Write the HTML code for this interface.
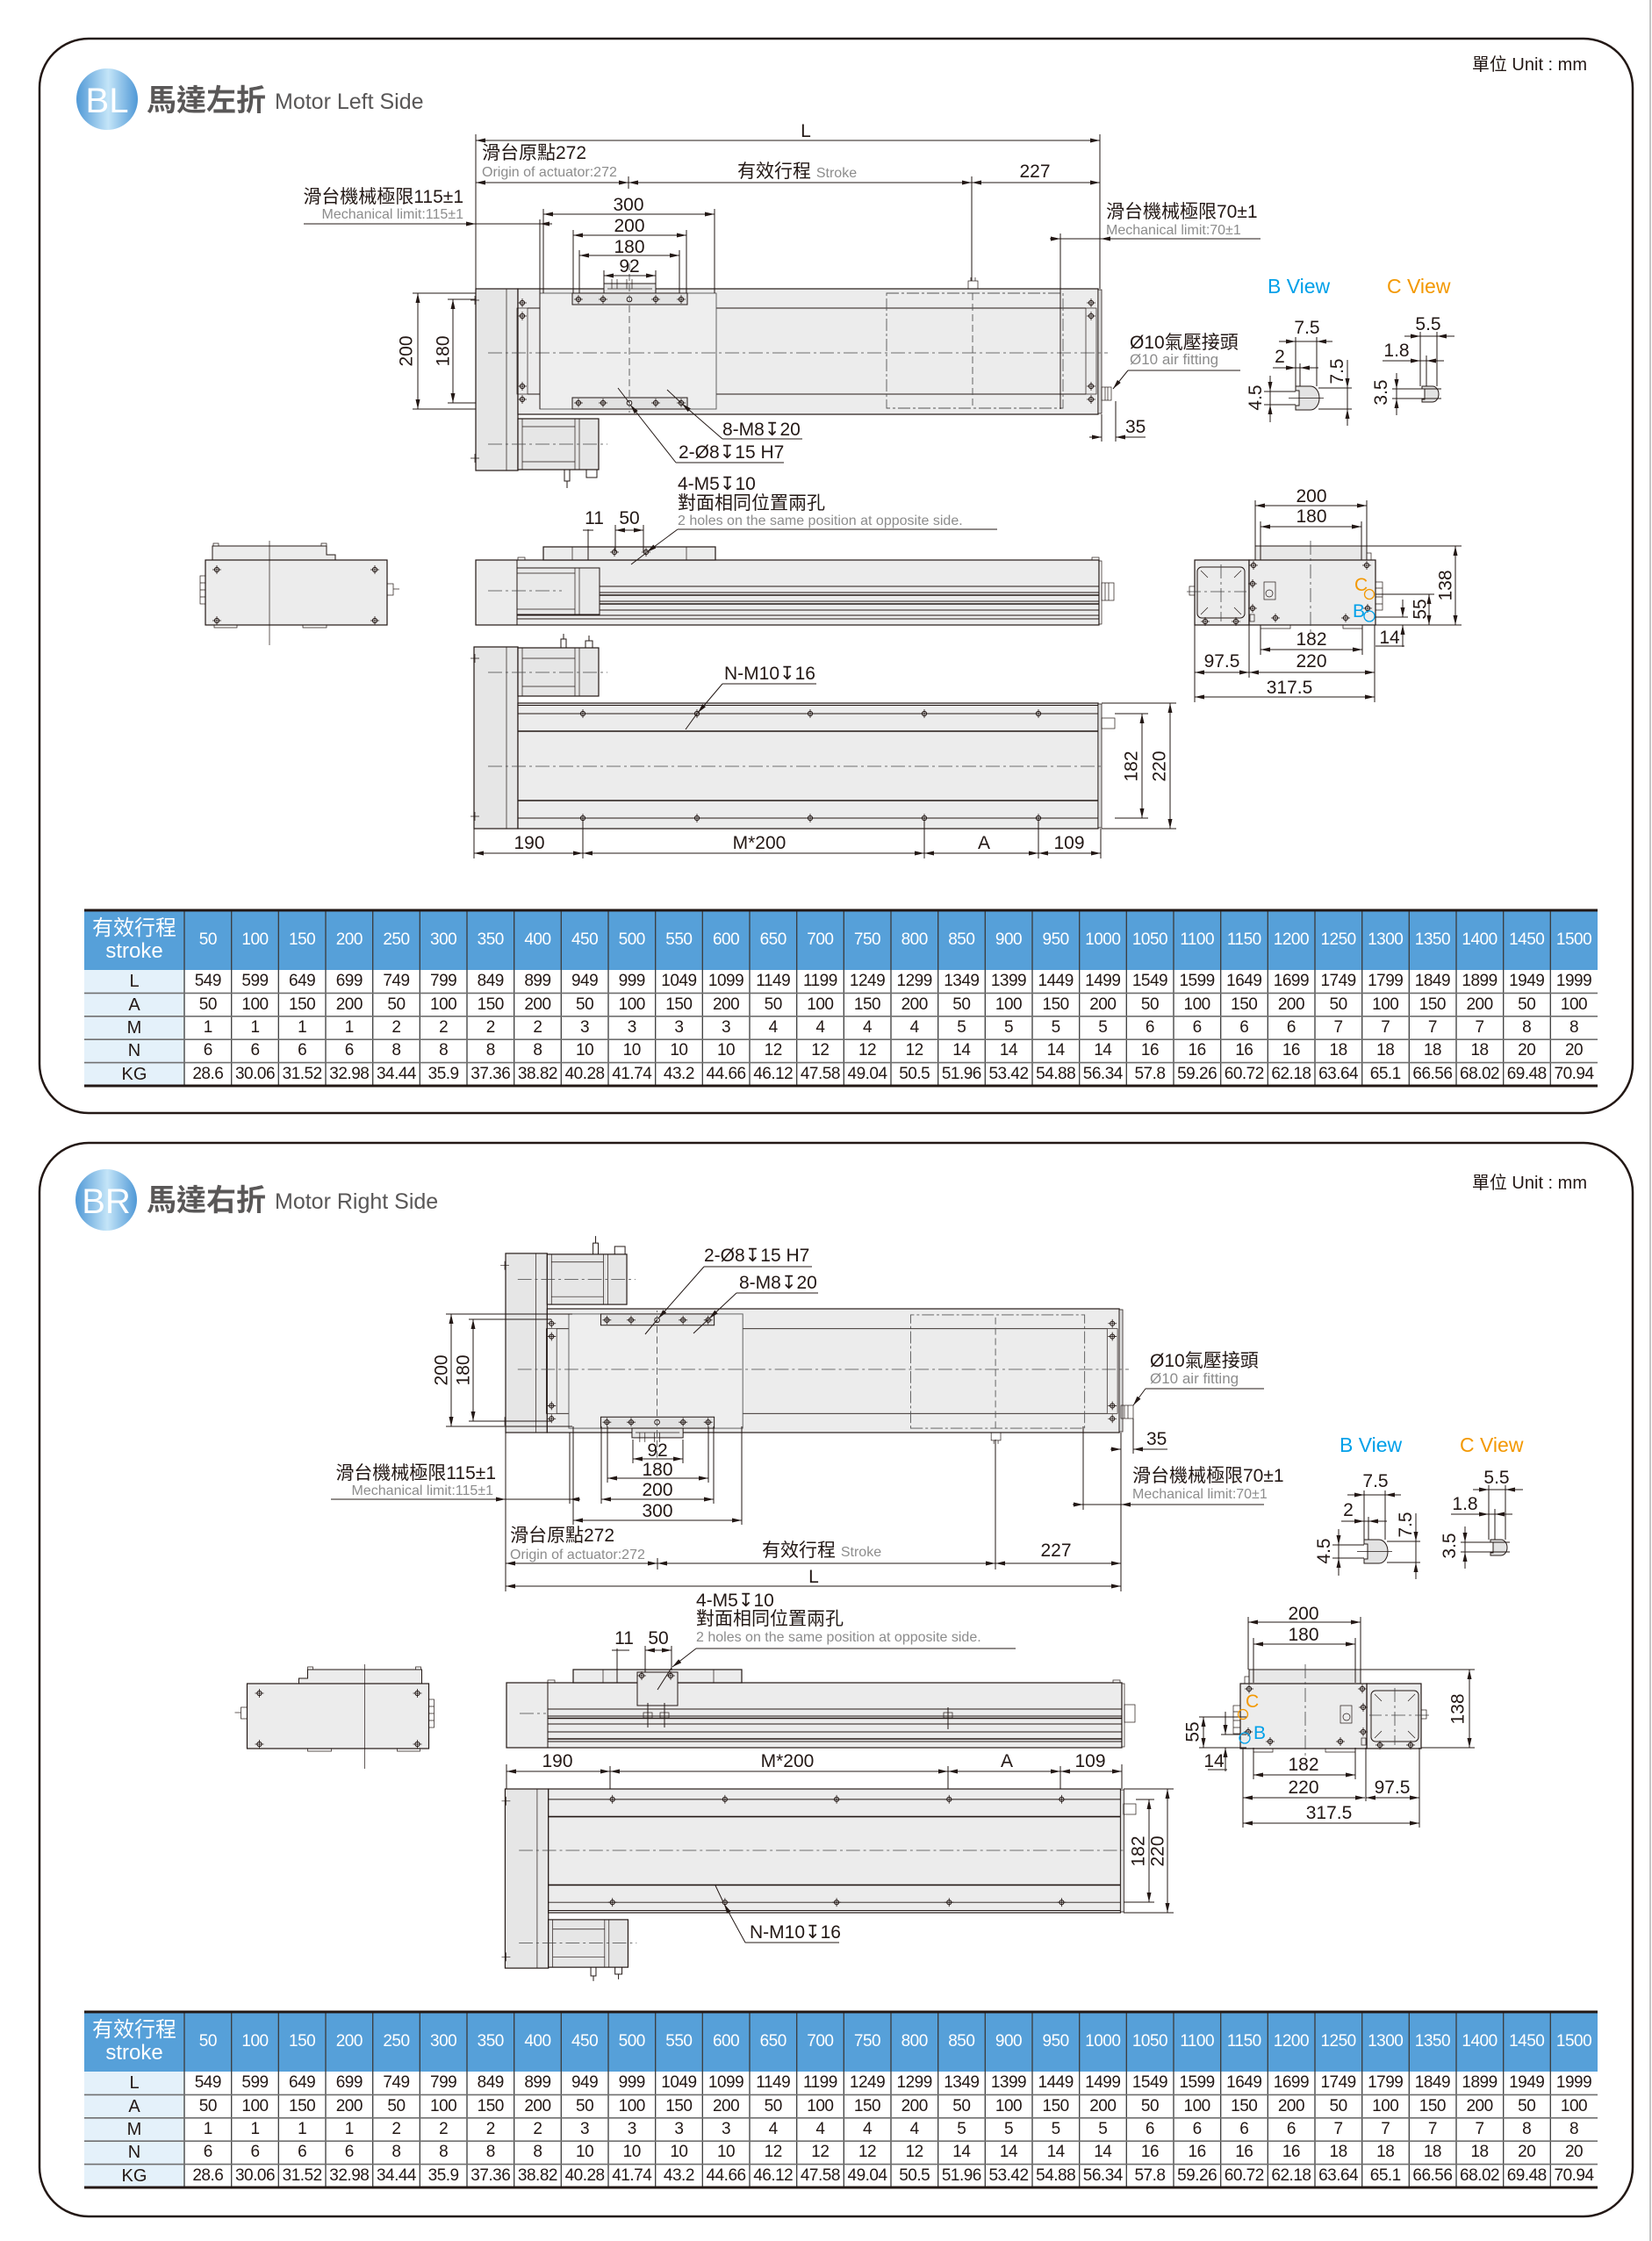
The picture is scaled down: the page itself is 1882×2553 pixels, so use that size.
<!DOCTYPE html>
<html><head><meta charset="utf-8">
<style>
html,body{margin:0;padding:0;background:#fff}
#pg{position:relative;width:1882px;height:2553px;overflow:hidden;background:#fff}
#pg svg{position:absolute;left:0;top:0}
.s{fill:none;stroke:#231815;stroke-width:1}
.t{fill:none;stroke:#231815;stroke-width:0.7}
.f{fill:#ececec;stroke:#231815;stroke-width:1.2}
.f2{fill:#e6e6e6;stroke:#231815;stroke-width:1.2}
.dl{fill:none;stroke:#231815;stroke-width:1;marker-start:url(#a);marker-end:url(#a)}
.ae{fill:none;stroke:#231815;stroke-width:1;marker-end:url(#a)}
.cl{fill:none;stroke:#444;stroke-width:0.8;stroke-dasharray:16 4 3 4}
.dsh{fill:none;stroke:#555;stroke-width:0.9;stroke-dasharray:8 4}
text{font-family:"Liberation Sans","Noto Sans CJK TC",sans-serif;fill:#231815}
.n{font-size:21px}
.m{text-anchor:middle}
.e{text-anchor:end}
.g{font-size:16px;fill:#8c8c8c}
.tb{position:absolute;left:96px;width:1724px;border-collapse:collapse;border-spacing:0;table-layout:fixed;font-family:"Liberation Sans","Noto Sans CJK TC",sans-serif;color:#231815}
.tb td{padding:0;text-align:center;height:26.4px;font-size:19px;line-height:20px;letter-spacing:-0.5px;white-space:nowrap;overflow:hidden}
.tb tr.h td{height:68px;color:#fff;font-size:19px}
.tb td.l{font-size:20px;letter-spacing:0}
.tb .a{font-size:24px;line-height:26px;letter-spacing:0}
</style></head>
<body><div id="pg">
<svg width="1882" height="2553" viewBox="0 0 1882 2553" xmlns="http://www.w3.org/2000/svg">
<defs>
<marker id="a" markerUnits="userSpaceOnUse" markerWidth="11" markerHeight="5" viewBox="0 0 11 5" refX="11" refY="2.5" orient="auto-start-reverse"><path d="M0 0L11 2.5L0 5z" fill="#231815"/></marker>
<linearGradient id="cg" x1="0" x2="1" y1="0" y2="0"><stop offset="0" stop-color="#4f98d6"/><stop offset="0.52" stop-color="#c4e5f8"/><stop offset="1" stop-color="#4f98d6"/></linearGradient>
<g id="h"><circle r="2.6" fill="none" stroke="#231815" stroke-width="1"/><path d="M-5 0H5M0 -5V5" stroke="#231815" stroke-width="0.8"/></g>
<g id="o"><circle r="2.8" fill="#fff" stroke="#231815" stroke-width="1"/></g>

<g id="TV">
<rect x="542" y="329" width="48" height="207" class="f2"/>
<path class="t" d="M577 329V536M536 342H546M541 337V347M536 522H546M541 517V527"/>
<rect x="590" y="477" width="92" height="58" class="f2"/>
<path class="t" d="M595 477V535M655 477V535M660 477V535M595 486H655M595 526H655"/>
<path class="cl" d="M556 506H692"/>
<path class="s" d="M643 535V548H649V535M646 548V556M668 535V544H680V535"/>
<rect x="590" y="329" width="661" height="143" class="f"/>
<rect x="1251" y="330" width="4" height="141" fill="#dcdcdc" stroke="#231815" stroke-width="0.8"/>
<path class="s" d="M601 351H1237M601 449H1237"/>
<rect x="589" y="351" width="12" height="98" class="t"/>
<rect x="1237" y="351" width="12" height="98" class="t"/>
<use href="#h" x="595" y="345"/><use href="#h" x="595" y="360"/><use href="#h" x="595" y="440"/><use href="#h" x="595" y="455"/>
<use href="#h" x="1243" y="345"/><use href="#h" x="1243" y="360"/><use href="#h" x="1243" y="440"/><use href="#h" x="1243" y="455"/>
<rect x="1010" y="334" width="201" height="131" fill="none" stroke="#555" stroke-width="0.9" stroke-dasharray="14 3 3 3"/>
<path class="dsh" d="M1108 334V465"/>
<rect x="615" y="334" width="201" height="132" fill="#eeeeee" stroke="#555" stroke-width="0.9"/>
<rect x="652" y="334" width="131" height="13" fill="#e2e2e2" stroke="#231815" stroke-width="1"/>
<rect x="652" y="453" width="131" height="13" fill="#e2e2e2" stroke="#231815" stroke-width="1"/>
<use href="#h" x="659" y="341"/><use href="#h" x="687" y="341"/><use href="#h" x="747" y="341"/><use href="#h" x="776" y="341"/>
<use href="#h" x="659" y="459"/><use href="#h" x="687" y="459"/><use href="#h" x="747" y="459"/><use href="#h" x="776" y="459"/>
<use href="#o" x="717" y="341"/><use href="#o" x="717" y="459"/>
<rect x="688" y="323" width="59" height="11" fill="#e6e6e6" stroke="#231815" stroke-width="1"/>
<path class="t" d="M697 318V329M703 318V329M714 318V329M720 318V329M692 329H743"/>
<path class="dsh" d="M717 300V470"/>
<path class="cl" d="M556 402H1262"/>
<rect x="1103" y="320" width="11" height="9" class="t"/>
<path class="t" d="M1106 316V320M1111 316V320"/>
</g>

<g id="LE">
<path d="M242 638V622H372V632H382V638" fill="#ececec" stroke="#231815" stroke-width="1"/>
<rect x="234" y="638" width="207" height="74" class="f"/>
<use href="#h" x="247" y="649"/><use href="#h" x="427" y="649"/><use href="#h" x="247" y="707"/><use href="#h" x="427" y="707"/>
<path class="t" d="M307 616V735"/>
<rect x="228" y="656" width="6" height="32" class="t"/>
<path class="t" d="M228 664H234M228 672H234M228 680H234"/>
<rect x="441" y="665" width="7" height="13" class="t"/><path class="t" d="M448 671H455"/>
<path class="t" d="M244 712V715H270V712M345 712V715H372V712M243 622V619H249V622M366 622V619H372V622"/>
</g>

<g id="RE">
<rect x="1430" y="622" width="127" height="16" fill="#e8e8e8" stroke="#231815" stroke-width="1"/>
<rect x="1557" y="630" width="5" height="8" class="t"/>
<rect x="1361" y="638" width="62" height="74" class="f"/>
<rect x="1423" y="638" width="144" height="74" class="f"/>
<rect x="1364" y="646" width="54" height="58" rx="5" class="s"/>
<path class="t" d="M1368 650l8 8M1414 650l-8 8M1368 700l8-8M1414 700l-8-8"/>
<path class="cl" d="M1352 674H1420M1391 643V708"/>
<rect x="1355" y="668" width="6" height="10" class="t"/>
<use href="#h" x="1373" y="708"/><use href="#h" x="1408" y="708"/>
<use href="#h" x="1428" y="644"/><use href="#h" x="1557" y="644"/><use href="#h" x="1427" y="665"/><use href="#h" x="1427" y="693"/><use href="#h" x="1453" y="704"/><use href="#h" x="1533" y="704"/><use href="#h" x="1558" y="693"/>
<rect x="1440" y="663" width="13" height="20" class="t"/><circle cx="1446" cy="676" r="4" class="t"/>
<rect x="1424" y="700" width="5" height="8" class="t"/>
<path class="cl" d="M1493 616V722"/>
<rect x="1567" y="663" width="8" height="32" class="t"/>
<path class="t" d="M1567 670H1575M1567 680H1575M1567 688H1575M1436 712V716H1470V712M1530 712V716H1552V712"/>
</g>

<g id="BV">
<rect x="540" y="737" width="50" height="207" class="f2"/>
<path class="t" d="M577 737V944M536 750H546M541 745V755M536 930H546M541 925V935"/>
<rect x="590" y="738" width="92" height="55" class="f2"/>
<path class="t" d="M595 738V793M655 738V793M660 738V793M595 750H655M595 782H655"/>
<path class="cl" d="M556 766H692"/>
<path class="s" d="M639 738V728H645V738M642 728V722M667 738V730H675V738M671 730V724"/>
<rect x="590" y="801" width="661" height="143" class="f"/>
<rect x="1251" y="802" width="4" height="141" fill="#dcdcdc" stroke="#231815" stroke-width="0.8"/>
<path class="s" d="M590 803.5H1251M590 813H1251M590 932H1251"/>
<path fill="none" stroke="#231815" stroke-width="1.6" d="M590 833H1251M590 912H1251"/>
<use href="#h" x="664" y="813"/><use href="#h" x="794" y="813"/><use href="#h" x="923" y="813"/><use href="#h" x="1053" y="813"/><use href="#h" x="1183" y="813"/>
<use href="#h" x="664" y="932"/><use href="#h" x="794" y="932"/><use href="#h" x="923" y="932"/><use href="#h" x="1053" y="932"/><use href="#h" x="1183" y="932"/>
<path class="cl" d="M556 873H1258"/>
</g>

<g id="TB">
<rect x="96" y="1037" width="1724" height="68" fill="#56a0d9"/>
<rect x="96" y="1105" width="114" height="132" fill="#e4f1fa"/>
<path fill="none" stroke="#3a3a3a" stroke-width="1.3" d="M210 1037V1237M263.7 1037V1237M317.3 1037V1237M371 1037V1237M424.7 1037V1237M478.3 1037V1237M532 1037V1237M585.7 1037V1237M639.3 1037V1237M693 1037V1237M746.7 1037V1237M800.3 1037V1237M854 1037V1237M907.7 1037V1237M961.3 1037V1237M1015 1037V1237M1068.7 1037V1237M1122.3 1037V1237M1176 1037V1237M1229.7 1037V1237M1283.3 1037V1237M1337 1037V1237M1390.7 1037V1237M1444.3 1037V1237M1498 1037V1237M1551.7 1037V1237M1605.3 1037V1237M1659 1037V1237M1712.7 1037V1237M1766.3 1037V1237"/>
<path fill="none" stroke="#707070" stroke-width="1.6" d="M96 1131.4H1820M96 1157.8H1820M96 1184.2H1820M96 1210.6H1820"/>
<path fill="none" stroke="#231815" stroke-width="3" d="M96 1037H1820M96 1237H1820"/>
</g>
</defs>

<!-- page edge -->
<path d="M1880 0V2553" stroke="#c4c4c4" stroke-width="2"/>

<!-- ===================== BL ===================== -->
<rect x="45" y="44" width="1815" height="1224" rx="56" fill="none" stroke="#231815" stroke-width="2.5"/>
<circle cx="122" cy="113" r="35" fill="url(#cg)"/>
<text x="122" y="128" text-anchor="middle" style="font-size:40px;fill:#fff">BL</text>
<text x="167" y="126" style="font-size:34px;font-weight:bold;fill:#595757">馬達左折</text>
<text x="313" y="124" style="font-size:25px;fill:#595757">Motor Left Side</text>
<text x="1808" y="80" text-anchor="end" style="font-size:20px">單位 Unit : mm</text>

<use href="#TV"/>
<!-- top view dims -->
<path class="s" d="M542 153V329M1253 153V329M716 201V215M1107 201V320M619 238V334M814 238V334M653 262V334M782 262V334M660 285V334M774 285V334M688 308V323M747 308V323M615 250V466M1208 266V466"/>
<path class="dl" d="M542 160H1253"/>
<path class="dl" d="M542 208H716"/><path class="dl" d="M716 208H1107"/><path class="dl" d="M1107 208H1253"/>
<path class="dl" d="M619 244H814"/><path class="dl" d="M653 268H782"/><path class="dl" d="M660 291H774"/><path class="dl" d="M688 314H747"/>
<path class="s" d="M346 255H629"/><path class="ae" d="M530 255H542"/><path class="ae" d="M627 255H615"/>
<path class="s" d="M1196 272H1436"/><path class="ae" d="M1196 272H1208"/><path class="ae" d="M1266 272H1254"/>
<text class="n m" x="918" y="156">L</text>
<text class="n" x="549" y="181">滑台原點272</text>
<text class="g" x="549" y="201">Origin of actuator:272</text>
<text class="n" x="840" y="202">有效行程 <tspan style="font-size:16px;fill:#8c8c8c">Stroke</tspan></text>
<text class="n m" x="1179" y="202">227</text>
<text class="n m" x="716" y="240">300</text>
<text class="n m" x="717" y="264">200</text>
<text class="n m" x="717" y="288">180</text>
<text class="n m" x="717" y="310">92</text>
<text class="n e" x="528" y="231">滑台機械極限115±1</text>
<text class="g e" x="528" y="249">Mechanical limit:115±1</text>
<text class="n" x="1260" y="248">滑台機械極限70±1</text>
<text class="g" x="1260" y="267">Mechanical limit:70±1</text>
<path class="s" d="M470 334H542M470 466H542M510 341H542M510 459H542"/>
<path class="dl" d="M476 334V466"/><path class="dl" d="M516 341V459"/>
<text class="n m" transform="translate(469.5 400) rotate(-90)">200</text>
<text class="n m" transform="translate(511.5 400) rotate(-90)">180</text>
<text class="n" x="823" y="496">8-M8↧20</text>
<path class="s" d="M823 500H914M776 459L760 444"/><path class="ae" d="M823 500L777 460"/>
<text class="n" x="773" y="522">2-Ø8↧15 H7</text>
<path class="s" d="M770 527H893M717 459L704 442"/><path class="ae" d="M770 527L718 461"/>
<rect x="1255" y="441" width="11" height="15" class="t"/><path class="t" d="M1259 441V456M1262 441V456"/>
<text class="n" x="1287" y="397">Ø10氣壓接頭</text>
<text x="1287" y="415" style="font-size:17px;fill:#8c8c8c">Ø10 air fitting</text>
<path class="s" d="M1285 422H1413"/><path class="ae" d="M1285 422L1268 443"/>
<text class="n" x="1282" y="493">35</text>
<path class="s" d="M1255 472V503M1271 457V503M1271 498H1305"/><path class="ae" d="M1241 498H1255"/><path class="ae" d="M1285 498H1271"/>

<!-- B / C view BL -->
<text x="1444" y="334" style="font-size:23px;fill:#00a0e9">B View</text>
<text x="1580" y="334" style="font-size:23px;fill:#f39800">C View</text>
<g>
<path d="M1476 440H1493A10 13.5 0 0 1 1493 467H1476V462H1480V445H1476Z" fill="#e3e3e3" stroke="#231815" stroke-width="1"/>
<path class="t" d="M1468 453.5H1508"/>
<path class="s" d="M1476 384V440M1500 384V440M1481 414V440M1457 389H1518M1450 419H1502"/>
<path class="ae" d="M1462 389H1476"/><path class="ae" d="M1514 389H1500"/><path class="ae" d="M1464 419H1476"/><path class="ae" d="M1495 419H1481"/>
<text class="n m" x="1489" y="380">7.5</text><text class="n m" x="1458" y="413">2</text>
<path class="s" d="M1440 446H1476M1440 461H1476M1447 428V481"/>
<path class="ae" d="M1447 432V446"/><path class="ae" d="M1447 477V461"/>
<text class="n m" transform="translate(1437 453) rotate(-90)">4.5</text>
<path class="s" d="M1502 442H1540M1502 466H1540M1535 410V485"/>
<path class="ae" d="M1535 428V442"/><path class="ae" d="M1535 480V466"/>
<text class="n m" transform="translate(1530 423) rotate(-90)">7.5</text>
<path d="M1620 440H1632A7 9 0 0 1 1632 458H1620V455H1623V443H1620Z" fill="#e3e3e3" stroke="#231815" stroke-width="1"/>
<path class="s" d="M1618 378V440M1637 378V440M1625 405V440M1600 383H1657M1575 411H1645"/>
<path class="ae" d="M1604 383H1618"/><path class="ae" d="M1651 383H1637"/><path class="ae" d="M1604 411H1618"/><path class="ae" d="M1639 411H1625"/>
<text class="n m" x="1627" y="376">5.5</text><text class="n m" x="1591" y="406">1.8</text>
<path class="s" d="M1586 443H1642M1586 454H1642M1591 425V473"/>
<path class="ae" d="M1591 429V443"/><path class="ae" d="M1591 469V454"/>
<text class="n m" transform="translate(1580 447) rotate(-90)">3.5</text>
</g>

<!-- middle row BL -->
<use href="#LE"/>
<rect x="542" y="638" width="710" height="74" class="f"/>
<path class="s" d="M589 638V712"/>
<rect x="619" y="623" width="196" height="15" class="f"/>
<path class="t" d="M652 623V638M782 623V638"/>
<rect x="590" y="635" width="8" height="3" class="t"/><rect x="1244" y="635" width="8" height="3" class="t"/>
<rect x="589" y="647" width="94" height="53" fill="#e9e9e9" stroke="#231815" stroke-width="1"/>
<path class="t" d="M655 647V700M660 647V700M589 653H655M589 694H655"/>
<path class="cl" d="M556 673H640"/>
<path class="s" d="M683 668H1252M683 675H1252M683 685H1252M683 695H1252M589 701H1252M589 705H1252"/>
<path fill="none" stroke="#231815" stroke-width="1.6" d="M683 678H1252M683 688H1252"/>
<rect x="1252" y="639" width="3" height="72" class="t"/>
<rect x="1255" y="664" width="14" height="20" class="t"/><path class="t" d="M1259 664V684M1263 664V684"/>
<use href="#h" x="700" y="629"/><use href="#h" x="736" y="629"/>
<text class="n" x="772" y="558">4-M5↧10</text>
<text class="n" x="772" y="580">對面相同位置兩孔</text>
<text class="g" x="772" y="598">2 holes on the same position at opposite side.</text>
<path class="s" d="M772 603H1136M736 630L719 643"/><path class="ae" d="M772 603L737 629"/>
<text class="n m" x="677" y="597">11</text><text class="n m" x="717" y="597">50</text>
<path class="s" d="M670 603V638M664 604H676M701 598V628M733 598V628"/>
<path class="dl" d="M701 604H733"/>

<use href="#RE"/>
<path class="s" d="M1430 570V622M1557 570V622M1436 594V638M1551 594V638"/>
<path class="dl" d="M1430 576H1557"/><path class="dl" d="M1436 600H1551"/>
<text class="n m" x="1494" y="572">200</text><text class="n m" x="1494" y="595">180</text>
<path class="s" d="M1557 622H1665M1567 712H1665M1567 677H1634M1567 703H1604M1567 736H1600"/>
<path class="dl" d="M1658 622V712"/><path class="dl" d="M1628 677V712"/>
<path class="ae" d="M1598 683V703"/><path class="ae" d="M1598 737V712"/>
<text class="n m" transform="translate(1653.5 667) rotate(-90)">138</text>
<text class="n m" transform="translate(1624.5 694) rotate(-90)">55</text>
<text class="n m" x="1583" y="733">14</text>
<path class="s" d="M1436 712V746M1552 712V746M1361 712V800M1423 712V772M1566 712V800"/>
<path class="dl" d="M1436 740H1552"/><path class="dl" d="M1423 766H1566"/><path class="dl" d="M1361 766H1423"/><path class="dl" d="M1361 794H1566"/>
<text class="n m" x="1494" y="735">182</text><text class="n m" x="1494" y="760">220</text><text class="n m" x="1392" y="760">97.5</text><text class="n m" x="1469" y="790">317.5</text>
<text x="1543" y="673" style="font-size:21px;fill:#f39800">C</text><circle cx="1560" cy="677" r="5.5" fill="none" stroke="#f39800" stroke-width="1.3"/>
<text x="1541" y="703" style="font-size:21px;fill:#00a0e9">B</text><circle cx="1560" cy="702" r="6" fill="none" stroke="#00a0e9" stroke-width="1.3"/>

<!-- bottom view BL -->
<use href="#BV"/>
<rect x="1255" y="818" width="15" height="12" class="t"/>
<path class="s" d="M1255 801H1340M1255 944H1340M1270 813H1308M1270 932H1308"/>
<path class="dl" d="M1301 813V932"/><path class="dl" d="M1333 801V944"/>
<text class="n m" transform="translate(1295.5 873) rotate(-90)">182</text>
<text class="n m" transform="translate(1327.5 873) rotate(-90)">220</text>
<path class="s" d="M540 944V978M664 932V978M1053 932V978M1183 932V978M1254 944V978"/>
<path class="dl" d="M540 972H664"/><path class="dl" d="M664 972H1053"/><path class="dl" d="M1053 972H1183"/><path class="dl" d="M1183 972H1254"/>
<text class="n m" x="603" y="967">190</text><text class="n m" x="865" y="967">M*200</text><text class="n m" x="1121" y="967">A</text><text class="n m" x="1218" y="967">109</text>
<text class="n" x="825" y="774">N-M10↧16</text>
<path class="s" d="M823 779H930M794 813L781 831"/><path class="ae" d="M823 779L795 812"/>

<use href="#TB"/>

<!-- ===================== BR ===================== -->
<rect x="45" y="1302" width="1815" height="1223" rx="56" fill="none" stroke="#231815" stroke-width="2.5"/>
<circle cx="121" cy="1367" r="35" fill="url(#cg)"/>
<text x="121" y="1382" text-anchor="middle" style="font-size:40px;fill:#fff">BR</text>
<text x="167" y="1379" style="font-size:34px;font-weight:bold;fill:#595757">馬達右折</text>
<text x="313" y="1377" style="font-size:25px;fill:#595757">Motor Right Side</text>
<text x="1808" y="1354" text-anchor="end" style="font-size:20px">單位 Unit : mm</text>

<use href="#TV" transform="matrix(0.986 0 0 -0.986 41.6 1956.4)"/>
<rect x="1277" y="1601" width="14" height="15" class="t"/><path class="t" d="M1281 1601V1616M1285 1601V1616"/>
<path class="s" d="M576 1632V1813M1277 1632V1813M749 1775V1788M1134 1640V1788M721 1640V1667M778 1640V1667M692 1625V1689M807 1625V1689M685 1625V1713M813 1625V1713M653 1625V1737M845 1625V1737M649 1632V1713M1234 1625V1720"/>
<path class="dl" d="M721 1662H778"/><path class="dl" d="M692 1684H807"/><path class="dl" d="M685 1708H813"/><path class="dl" d="M653 1732H845"/>
<text class="n m" x="749" y="1659">92</text><text class="n m" x="749" y="1681">180</text><text class="n m" x="749" y="1704">200</text><text class="n m" x="749" y="1728">300</text>
<path class="s" d="M377 1708H661"/><path class="ae" d="M564 1708H576"/><path class="ae" d="M661 1708H649"/>
<text class="n e" x="565" y="1685">滑台機械極限115±1</text>
<text class="g e" x="562" y="1703">Mechanical limit:115±1</text>
<path class="dl" d="M576 1781H749"/><path class="dl" d="M749 1781H1134"/><path class="dl" d="M1134 1781H1277"/>
<path class="dl" d="M576 1807H1277"/>
<text class="n" x="581" y="1756">滑台原點272</text>
<text class="g" x="581" y="1776">Origin of actuator:272</text>
<text class="n" x="868" y="1773">有效行程 <tspan style="font-size:16px;fill:#8c8c8c">Stroke</tspan></text>
<text class="n m" x="1203" y="1773">227</text>
<text class="n m" x="927" y="1803">L</text>
<path class="s" d="M1222 1714H1440"/><path class="ae" d="M1222 1714H1234"/><path class="ae" d="M1289 1714H1277"/>
<text class="n" x="1290" y="1688">滑台機械極限70±1</text>
<text class="g" x="1290" y="1707">Mechanical limit:70±1</text>
<text class="n" x="1310" y="1557">Ø10氣壓接頭</text>
<text x="1310" y="1576" style="font-size:17px;fill:#8c8c8c">Ø10 air fitting</text>
<path class="s" d="M1305 1582H1440"/><path class="ae" d="M1305 1582L1291 1601"/>
<text class="n" x="1306" y="1646">35</text>
<path class="s" d="M1291 1616V1656M1291 1651H1330"/><path class="ae" d="M1265 1651H1277"/><path class="ae" d="M1303 1651H1291"/>
<path class="s" d="M508 1497H652M508 1625H652M534 1503H628M534 1619H628"/>
<path class="dl" d="M514 1497V1625"/><path class="dl" d="M539 1503V1619"/>
<text class="n m" transform="translate(509.5 1561) rotate(-90)">200</text>
<text class="n m" transform="translate(534.5 1561) rotate(-90)">180</text>
<text class="n" x="802" y="1437">2-Ø8↧15 H7</text>
<path class="s" d="M802 1443H925M749 1503L735 1520"/><path class="ae" d="M802 1443L750 1502"/>
<text class="n" x="842" y="1468">8-M8↧20</text>
<path class="s" d="M839 1473H932M807 1503L790 1519"/><path class="ae" d="M839 1473L808 1502"/>

<!-- B / C view BR -->
<text x="1526" y="1654" style="font-size:23px;fill:#00a0e9">B View</text>
<text x="1663" y="1654" style="font-size:23px;fill:#f39800">C View</text>
<g transform="translate(78 1314)">
<path d="M1476 440H1493A10 13.5 0 0 1 1493 467H1476V462H1480V445H1476Z" fill="#e3e3e3" stroke="#231815" stroke-width="1"/>
<path class="t" d="M1468 453.5H1508"/>
<path class="s" d="M1476 384V440M1500 384V440M1481 414V440M1457 389H1518M1450 419H1502"/>
<path class="ae" d="M1462 389H1476"/><path class="ae" d="M1514 389H1500"/><path class="ae" d="M1464 419H1476"/><path class="ae" d="M1495 419H1481"/>
<text class="n m" x="1489" y="380">7.5</text><text class="n m" x="1458" y="413">2</text>
<path class="s" d="M1440 446H1476M1440 461H1476M1447 428V481"/>
<path class="ae" d="M1447 432V446"/><path class="ae" d="M1447 477V461"/>
<text class="n m" transform="translate(1437 453) rotate(-90)">4.5</text>
<path class="s" d="M1502 442H1540M1502 466H1540M1535 410V485"/>
<path class="ae" d="M1535 428V442"/><path class="ae" d="M1535 480V466"/>
<text class="n m" transform="translate(1530 423) rotate(-90)">7.5</text>
<path d="M1620 440H1632A7 9 0 0 1 1632 458H1620V455H1623V443H1620Z" fill="#e3e3e3" stroke="#231815" stroke-width="1"/>
<path class="s" d="M1618 378V440M1637 378V440M1625 405V440M1600 383H1657M1575 411H1645"/>
<path class="ae" d="M1604 383H1618"/><path class="ae" d="M1651 383H1637"/><path class="ae" d="M1604 411H1618"/><path class="ae" d="M1639 411H1625"/>
<text class="n m" x="1627" y="376">5.5</text><text class="n m" x="1591" y="406">1.8</text>
<path class="s" d="M1586 443H1642M1586 454H1642M1591 425V473"/>
<path class="ae" d="M1591 429V443"/><path class="ae" d="M1591 469V454"/>
<text class="n m" transform="translate(1580 447) rotate(-90)">3.5</text>
</g>

<!-- middle row BR -->
<use href="#LE" transform="matrix(-1 0 0 1 722.5 1280)"/>
<rect x="577" y="1917" width="701" height="74" class="f"/>
<path class="s" d="M624 1917V1991"/>
<rect x="653" y="1902" width="192" height="15" class="f"/>
<path class="t" d="M687 1902V1917M813 1902V1917"/>
<rect x="624" y="1914" width="8" height="3" class="t"/><rect x="1268" y="1914" width="8" height="3" class="t"/>
<path class="s" d="M624 1947H1278M624 1955H1278M624 1964H1278M624 1973H1278M624 1984H1278"/>
<path fill="none" stroke="#231815" stroke-width="1.6" d="M624 1957.5H1278M624 1981H1278"/>
<rect x="726" y="1905" width="46" height="38" fill="#e9e9e9" stroke="#231815" stroke-width="1"/>
<path class="s" d="M738 1940V1968M757 1940V1968M1080 1945V1970"/>
<rect x="733" y="1951" width="10" height="6" class="t"/><rect x="752" y="1951" width="10" height="6" class="t"/><rect x="1075" y="1951" width="10" height="6" class="t"/>
<path class="cl" d="M592 1952H622"/>
<rect x="1278" y="1918" width="3" height="72" class="t"/>
<rect x="1281" y="1942" width="12" height="20" class="t"/>
<use href="#h" x="731" y="1909"/><use href="#h" x="764" y="1909"/>
<text class="n" x="793" y="1830">4-M5↧10</text>
<text class="n" x="793" y="1851">對面相同位置兩孔</text>
<text class="g" x="793" y="1870">2 holes on the same position at opposite side.</text>
<path class="s" d="M793 1878H1157M765 1900L749 1925"/><path class="ae" d="M793 1878L766 1899"/>
<text class="n m" x="711" y="1873">11</text><text class="n m" x="750" y="1873">50</text>
<path class="s" d="M703 1878V1917M697 1880H717M735 1875V1905M765 1875V1903"/>
<path class="dl" d="M735 1880H765"/>

<use href="#RE" transform="matrix(-1 0 0 1 2980 1280)"/>
<path class="s" d="M1422 1842V1902M1550 1842V1902M1428 1866V1917M1544 1866V1917"/>
<path class="dl" d="M1422 1848H1550"/><path class="dl" d="M1428 1873H1544"/>
<text class="n m" x="1485" y="1845">200</text><text class="n m" x="1485" y="1869">180</text>
<path class="s" d="M1550 1902H1680M1619 1991H1680M1366 1956H1420M1366 1991H1420M1391 1976H1420M1376 2016H1398"/>
<path class="dl" d="M1674 1902V1991"/><path class="dl" d="M1371 1956V1991"/>
<path class="ae" d="M1396 1950V1976"/><path class="ae" d="M1396 2018V1991"/>
<text class="n m" transform="translate(1667.5 1947) rotate(-90)">138</text>
<text class="n m" transform="translate(1365.5 1973) rotate(-90)">55</text>
<text class="n m" x="1383" y="2013">14</text>
<path class="s" d="M1428 1991V2027M1544 1991V2027M1416 1991V2082M1556 1991V2052M1617 1991V2082"/>
<path class="dl" d="M1428 2022H1544"/><path class="dl" d="M1416 2048H1555"/><path class="dl" d="M1556 2048H1617"/><path class="dl" d="M1416 2077H1617"/>
<text class="n m" x="1485" y="2017">182</text><text class="n m" x="1485" y="2043">220</text><text class="n m" x="1586" y="2043">97.5</text><text class="n m" x="1514" y="2072">317.5</text>
<text x="1419" y="1945" style="font-size:21px;fill:#f39800">C</text><circle cx="1416" cy="1953" r="5.5" fill="none" stroke="#f39800" stroke-width="1.3"/>
<text x="1428" y="1981" style="font-size:21px;fill:#00a0e9">B</text><circle cx="1418" cy="1980" r="6" fill="none" stroke="#00a0e9" stroke-width="1.3"/>

<!-- dims row + bottom view BR -->
<path class="s" d="M577 2010V2038M695 2012V2050M1080 2012V2050M1208 2012V2050M1278 2010V2038"/>
<path class="dl" d="M577 2018H695"/><path class="dl" d="M695 2018H1080"/><path class="dl" d="M1080 2018H1208"/><path class="dl" d="M1208 2018H1278"/>
<text class="n m" x="635" y="2013">190</text><text class="n m" x="897" y="2013">M*200</text><text class="n m" x="1147" y="2013">A</text><text class="n m" x="1242" y="2013">109</text>
<use href="#BV" transform="matrix(0.986 0 0 -0.986 43 2968.8)"/>
<rect x="1280" y="2055" width="14" height="12" class="t"/>
<path class="s" d="M1280 2038H1337M1280 2179H1337M1294 2050H1315M1280 2167H1315"/>
<path class="dl" d="M1309 2050V2167"/><path class="dl" d="M1330 2038V2179"/>
<text class="n m" transform="translate(1303.5 2109) rotate(-90)">182</text>
<text class="n m" transform="translate(1325.5 2109) rotate(-90)">220</text>
<text class="n" x="854" y="2208">N-M10↧16</text>
<path class="s" d="M849 2213H956M824 2167L815 2148"/><path class="ae" d="M849 2213L825 2169"/>

<use href="#TB" y="1255"/>
</svg>

<table class="tb" style="top:1037px">
<colgroup><col style="width:114px"><col span="30" style="width:53.667px"></colgroup>
<tr class="h"><td class="l"><div class="a">有效行程</div><div class="a">stroke</div></td><td>50</td><td>100</td><td>150</td><td>200</td><td>250</td><td>300</td><td>350</td><td>400</td><td>450</td><td>500</td><td>550</td><td>600</td><td>650</td><td>700</td><td>750</td><td>800</td><td>850</td><td>900</td><td>950</td><td>1000</td><td>1050</td><td>1100</td><td>1150</td><td>1200</td><td>1250</td><td>1300</td><td>1350</td><td>1400</td><td>1450</td><td>1500</td></tr>
<tr><td class="l">L</td><td>549</td><td>599</td><td>649</td><td>699</td><td>749</td><td>799</td><td>849</td><td>899</td><td>949</td><td>999</td><td>1049</td><td>1099</td><td>1149</td><td>1199</td><td>1249</td><td>1299</td><td>1349</td><td>1399</td><td>1449</td><td>1499</td><td>1549</td><td>1599</td><td>1649</td><td>1699</td><td>1749</td><td>1799</td><td>1849</td><td>1899</td><td>1949</td><td>1999</td></tr>
<tr><td class="l">A</td><td>50</td><td>100</td><td>150</td><td>200</td><td>50</td><td>100</td><td>150</td><td>200</td><td>50</td><td>100</td><td>150</td><td>200</td><td>50</td><td>100</td><td>150</td><td>200</td><td>50</td><td>100</td><td>150</td><td>200</td><td>50</td><td>100</td><td>150</td><td>200</td><td>50</td><td>100</td><td>150</td><td>200</td><td>50</td><td>100</td></tr>
<tr><td class="l">M</td><td>1</td><td>1</td><td>1</td><td>1</td><td>2</td><td>2</td><td>2</td><td>2</td><td>3</td><td>3</td><td>3</td><td>3</td><td>4</td><td>4</td><td>4</td><td>4</td><td>5</td><td>5</td><td>5</td><td>5</td><td>6</td><td>6</td><td>6</td><td>6</td><td>7</td><td>7</td><td>7</td><td>7</td><td>8</td><td>8</td></tr>
<tr><td class="l">N</td><td>6</td><td>6</td><td>6</td><td>6</td><td>8</td><td>8</td><td>8</td><td>8</td><td>10</td><td>10</td><td>10</td><td>10</td><td>12</td><td>12</td><td>12</td><td>12</td><td>14</td><td>14</td><td>14</td><td>14</td><td>16</td><td>16</td><td>16</td><td>16</td><td>18</td><td>18</td><td>18</td><td>18</td><td>20</td><td>20</td></tr>
<tr><td class="l">KG</td><td>28.6</td><td>30.06</td><td>31.52</td><td>32.98</td><td>34.44</td><td>35.9</td><td>37.36</td><td>38.82</td><td>40.28</td><td>41.74</td><td>43.2</td><td>44.66</td><td>46.12</td><td>47.58</td><td>49.04</td><td>50.5</td><td>51.96</td><td>53.42</td><td>54.88</td><td>56.34</td><td>57.8</td><td>59.26</td><td>60.72</td><td>62.18</td><td>63.64</td><td>65.1</td><td>66.56</td><td>68.02</td><td>69.48</td><td>70.94</td></tr>
</table>

<table class="tb" style="top:2292px">
<colgroup><col style="width:114px"><col span="30" style="width:53.667px"></colgroup>
<tr class="h"><td class="l"><div class="a">有效行程</div><div class="a">stroke</div></td><td>50</td><td>100</td><td>150</td><td>200</td><td>250</td><td>300</td><td>350</td><td>400</td><td>450</td><td>500</td><td>550</td><td>600</td><td>650</td><td>700</td><td>750</td><td>800</td><td>850</td><td>900</td><td>950</td><td>1000</td><td>1050</td><td>1100</td><td>1150</td><td>1200</td><td>1250</td><td>1300</td><td>1350</td><td>1400</td><td>1450</td><td>1500</td></tr>
<tr><td class="l">L</td><td>549</td><td>599</td><td>649</td><td>699</td><td>749</td><td>799</td><td>849</td><td>899</td><td>949</td><td>999</td><td>1049</td><td>1099</td><td>1149</td><td>1199</td><td>1249</td><td>1299</td><td>1349</td><td>1399</td><td>1449</td><td>1499</td><td>1549</td><td>1599</td><td>1649</td><td>1699</td><td>1749</td><td>1799</td><td>1849</td><td>1899</td><td>1949</td><td>1999</td></tr>
<tr><td class="l">A</td><td>50</td><td>100</td><td>150</td><td>200</td><td>50</td><td>100</td><td>150</td><td>200</td><td>50</td><td>100</td><td>150</td><td>200</td><td>50</td><td>100</td><td>150</td><td>200</td><td>50</td><td>100</td><td>150</td><td>200</td><td>50</td><td>100</td><td>150</td><td>200</td><td>50</td><td>100</td><td>150</td><td>200</td><td>50</td><td>100</td></tr>
<tr><td class="l">M</td><td>1</td><td>1</td><td>1</td><td>1</td><td>2</td><td>2</td><td>2</td><td>2</td><td>3</td><td>3</td><td>3</td><td>3</td><td>4</td><td>4</td><td>4</td><td>4</td><td>5</td><td>5</td><td>5</td><td>5</td><td>6</td><td>6</td><td>6</td><td>6</td><td>7</td><td>7</td><td>7</td><td>7</td><td>8</td><td>8</td></tr>
<tr><td class="l">N</td><td>6</td><td>6</td><td>6</td><td>6</td><td>8</td><td>8</td><td>8</td><td>8</td><td>10</td><td>10</td><td>10</td><td>10</td><td>12</td><td>12</td><td>12</td><td>12</td><td>14</td><td>14</td><td>14</td><td>14</td><td>16</td><td>16</td><td>16</td><td>16</td><td>18</td><td>18</td><td>18</td><td>18</td><td>20</td><td>20</td></tr>
<tr><td class="l">KG</td><td>28.6</td><td>30.06</td><td>31.52</td><td>32.98</td><td>34.44</td><td>35.9</td><td>37.36</td><td>38.82</td><td>40.28</td><td>41.74</td><td>43.2</td><td>44.66</td><td>46.12</td><td>47.58</td><td>49.04</td><td>50.5</td><td>51.96</td><td>53.42</td><td>54.88</td><td>56.34</td><td>57.8</td><td>59.26</td><td>60.72</td><td>62.18</td><td>63.64</td><td>65.1</td><td>66.56</td><td>68.02</td><td>69.48</td><td>70.94</td></tr>
</table>
</div></body></html>
